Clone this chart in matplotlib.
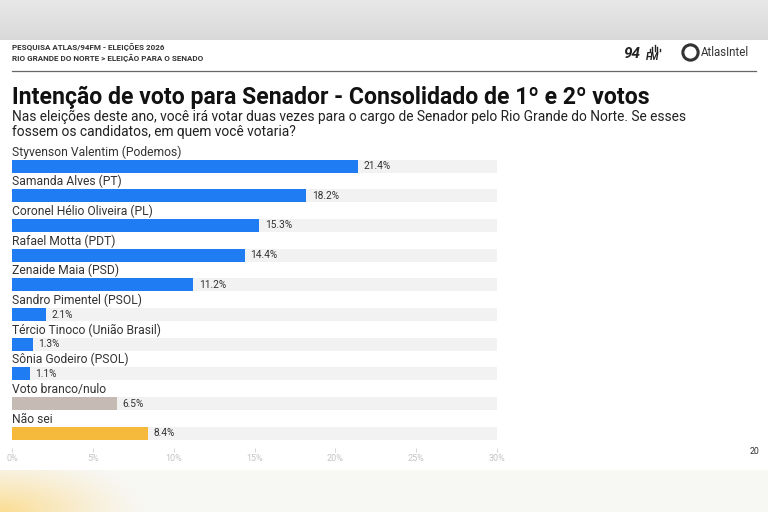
import numpy as np
import matplotlib.pyplot as plt

# data
categories = [
    "Styvenson Valentim (Podemos)",
    "Samanda Alves (PT)",
    "Coronel Hélio Oliveira (PL)",
    "Rafael Motta (PDT)",
    "Zenaide Maia (PSD)",
    "Sandro Pimentel (PSOL)",
    "Tércio Tinoco (União Brasil)",
    "Sônia Godeiro (PSOL)",
    "Voto branco/nulo",
    "Não sei",
]
values = [21.4, 18.2, 15.3, 14.4, 11.2, 2.1, 1.3, 1.1, 6.5, 8.4]
bar_colors = ["#1f7cf2"] * 8 + ["#c6bbb4", "#f5b93b"]
xticks = [0, 5, 10, 15, 20, 25, 30]
xticklabels = ["0%", "5%", "10%", "15%", "20%", "25%", "30%"]

FONT = "Roboto"
W, H = 768, 512

fig = plt.figure(figsize=(W / 100, H / 100), dpi=100)
fig.patch.set_facecolor("white")

# background layer in pixel coords
bg = fig.add_axes([0, 0, 1, 1])
bg.axis("off")

# blurred grey band on top
top = np.linspace(0.91, 0.85, 40)[:, None] * np.ones((40, 10))
bg.imshow(np.dstack([top] * 3), extent=(0, W, 40, 0), aspect="auto")

# blurred bottom band with a soft yellow glow at the left
yy, xx = np.mgrid[0:42, 0:384]
d = np.sqrt((xx * 2 / 150.0) ** 2 + ((41 - yy) / 60.0) ** 2)
glow = np.clip(1 - d, 0, 1) ** 1.3 * 0.8
base = np.array([0.97, 0.97, 0.96])
yel = np.array([0.99, 0.84, 0.48])
img = base[None, None, :] * (1 - glow[..., None]) + yel[None, None, :] * glow[..., None]
bg.imshow(img, extent=(0, W, H, 470), aspect="auto")
bg.set_xlim(0, W)
bg.set_ylim(H, 0)

# header
bg.text(12, 47, "PESQUISA ATLAS/94FM - ELEIÇÕES 2026", fontsize=5.8, fontweight="bold",
        color="#333333", family=FONT, va="center")
bg.text(12, 58, "RIO GRANDE DO NORTE > ELEIÇÃO PARA O SENADO", fontsize=5.8,
        fontweight="bold", color="#333333", family=FONT, va="center")
bg.plot([12, 756], [70.5, 70.5], color="#666666", lw=0.9)

# logos
bg.text(623, 54.5, "94", fontsize=11, fontweight="bold", style="italic", color="#222222",
        family=FONT, va="center")
bg.text(646, 57, "FM", fontsize=7, fontweight="bold", style="italic", color="#222222",
        family=FONT, va="center")
for k, hgt in enumerate([2, 4, 6, 4, 2]):
    bg.plot([650 + k * 2.4, 650 + k * 2.4], [51, 51 - hgt], color="#222222", lw=1.0)
bg.plot([689.5], [52], marker="o", ms=11, mfc="none", mec="#333333", mew=2.2)
bg.text(701, 52, "AtlasIntel", fontsize=8.3, color="#333333", family=FONT, va="center")

# titles
bg.text(12, 97, "Intenção de voto para Senador - Consolidado de 1º e 2º votos",
        fontsize=16.6, fontweight="bold", color="#111111", family=FONT, va="center")
bg.text(12, 117, "Nas eleições deste ano, você irá votar duas vezes para o cargo de Senador "
        "pelo Rio Grande do Norte. Se esses", fontsize=9.95, color="#222222",
        family=FONT, va="center")
bg.text(12, 132, "fossem os candidatos, em quem você votaria?", fontsize=9.95,
        color="#222222", family=FONT, va="center")

# page number
bg.text(755, 451, "20", fontsize=6.3, color="#333333", family=FONT, ha="center",
        va="center")

# bar chart
ax = fig.add_axes([12 / W, (H - 448.2) / H, 485 / W, 297 / H])
ax.set_xlim(0, 30)
ax.set_ylim(len(values) - 0.5, -0.5)
ax.patch.set_alpha(0)
y = np.arange(len(values))
ax.barh(y, [30] * len(values), height=0.44, color="#f2f2f2", zorder=1)
ax.barh(y, values, height=0.44, color=bar_colors, zorder=2)
for i, (c, v) in enumerate(zip(categories, values)):
    ax.annotate(c, (0, i), xytext=(0, 10.2), textcoords="offset points",
                fontsize=8.7, color="#333333", family=FONT, va="center", ha="left",
                annotation_clip=False)
    ax.annotate(f"{v}%", (v, i), xytext=(4, 0), textcoords="offset points",
                fontsize=7.3, color="#333333", family=FONT, va="center", ha="left")

ax.set_xticks(xticks)
ax.set_xticklabels(xticklabels, fontsize=6.5, color="#c4c4c4", family=FONT)
ax.set_yticks([])
ax.tick_params(axis="x", length=3, width=0.6, color="#d0d0d0", pad=1.5)
for s in ax.spines.values():
    s.set_visible(False)

fig.savefig("out.png", dpi=100)
